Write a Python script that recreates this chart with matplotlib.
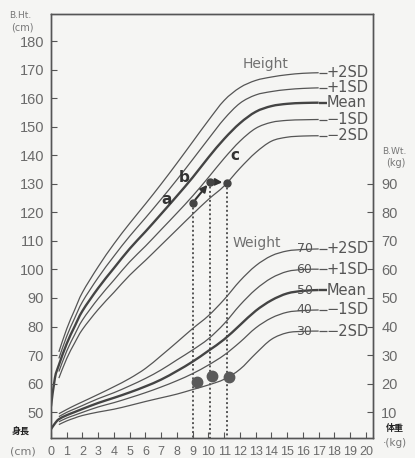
import matplotlib
matplotlib.use("Agg")
import matplotlib.pyplot as plt
from matplotlib.path import Path
from matplotlib.patches import PathPatch

plt.rcParams['font.family'] = ['DejaVu Sans', 'Noto Sans CJK JP']

# Ages (years) at which the standard curves are tabulated
ages = [0.5, 1, 1.5, 2, 3, 4, 5, 6, 7, 8, 9, 10, 11, 12, 13, 14, 15, 16, 17]

# Height standards (cm)
height_p2 = [71.1, 79.2, 85.8, 92.0, 101.0, 109.0, 116.2, 123.0, 130.0, 137.3, 144.8,
             152.3, 159.3, 163.8, 166.3, 167.5, 168.3, 168.8, 169.0]
height_p1 = [68.8, 76.6, 82.9, 88.7, 97.2, 104.7, 111.7, 118.1, 124.7, 131.5, 138.6,
             145.8, 152.8, 158.3, 161.2, 162.4, 163.1, 163.5, 163.7]
height_mean = [66.5, 74.0, 80.0, 85.5, 93.5, 100.5, 107.3, 113.3, 119.5, 125.8, 132.3,
               139.3, 145.8, 151.3, 155.3, 157.3, 158.1, 158.4, 158.5]
height_m1 = [64.2, 71.4, 77.1, 82.3, 89.8, 96.3, 102.7, 108.2, 114.0, 119.8, 125.8,
             132.3, 139.0, 145.0, 149.5, 151.6, 152.3, 152.5, 152.6]
height_m2 = [61.9, 68.8, 74.2, 79.0, 86.0, 92.0, 98.0, 103.2, 108.6, 114.0, 119.4,
             124.6, 129.3, 135.5, 141.0, 145.0, 146.4, 146.8, 146.9]

# Weight standards (kg)
weight_p2 = [9.4, 10.9, 12.3, 13.6, 16.2, 18.9, 21.8, 25.3, 29.8, 34.5, 39.3,
             43.8, 49.5, 56.0, 61.3, 64.8, 66.5, 67.0, 67.2]
weight_p1 = [8.4, 9.9, 11.1, 12.3, 14.7, 16.8, 19.2, 21.8, 24.8, 28.3, 31.8,
             35.7, 41.0, 47.5, 53.0, 57.0, 59.3, 60.0, 60.1]
weight_mean = [7.5, 8.9, 10.0, 11.1, 13.2, 15.0, 16.9, 19.0, 21.4, 24.4, 27.7,
               31.5, 35.5, 40.5, 45.5, 49.2, 51.6, 52.5, 52.8]
weight_m1 = [6.6, 7.9, 8.9, 9.9, 11.8, 13.3, 15.0, 16.8, 18.8, 21.0, 23.5,
             26.5, 30.0, 34.5, 39.5, 43.0, 45.0, 45.6, 45.8]
weight_m2 = [5.6, 6.9, 7.9, 8.8, 10.0, 11.0, 12.3, 13.7, 15.0, 16.3, 17.9,
             19.5, 21.5, 25.0, 30.5, 35.5, 37.8, 38.3, 38.4]

# Mean curves start at birth
birth_ages = [0, 0.25]
birth_height = [52.0, 62.0]
birth_weight = [4.0, 6.0]

sd_labels = ['+2SD', '+1SD', 'Mean', '\u22121SD', '\u22122SD']
weight_marks = ['70', '60', '50', '40', '30']

# Measured child
visit_ages = [9.0, 10.1, 11.15]
visit_height = [123.4, 130.8, 130.5]
visit_weight_ages = [9.25, 10.25, 11.3]
visit_weight = [20.6, 22.6, 22.2]
point_letters = ['a', 'b', 'c']

x_ticks = list(range(0, 21))
height_ticks = list(range(50, 181, 10))
weight_ticks = list(range(10, 91, 10))

BG = '#f5f5f3'
LINE = '#555555'
TXT = '#6a6a6a'

W, H = 415, 458
fig = plt.figure(figsize=(W / 100, H / 100), dpi=100, facecolor=BG)
ax = fig.add_axes([51 / W, 1 - 438 / H, 322 / W, 424 / H])
ax.set_facecolor(BG)
ax.set_xlim(0, 20.45)
ax.set_ylim(40.9, 189.6)
ax2 = ax.twinx()
ax2.set_ylim(0.9, 149.6)

for a in (ax, ax2):
    for s in a.spines.values():
        s.set_color(LINE)
        s.set_linewidth(1.0)

ax.set_xticks(x_ticks)
ax.set_xticklabels([str(t) for t in x_ticks], family='Liberation Sans', fontsize=9, color=TXT)
ax.set_yticks(height_ticks)
ax.set_yticklabels([str(t) for t in height_ticks], family='Liberation Sans', fontsize=10.5, color=TXT)
ax.tick_params(axis='x', direction='in', length=4, width=0.8, color=LINE, pad=6)
ax.tick_params(axis='y', direction='in', length=4, width=0.8, color=LINE, pad=5)
ax2.set_yticks(weight_ticks)
ax2.set_yticklabels([str(t) for t in weight_ticks], family='Liberation Sans', fontsize=10.5, color=TXT)
ax2.tick_params(axis='y', direction='in', length=4, width=0.8, color=LINE, pad=6)


def smooth_curve(axis, xs, ys, **kw):
    """Draw a smooth Catmull-Rom style Bezier path through the given points."""
    pts = list(zip(xs, ys))
    verts = [pts[0]]
    codes = [Path.MOVETO]
    n = len(pts)
    for i in range(n - 1):
        p0 = pts[i - 1] if i > 0 else pts[i]
        p1, p2 = pts[i], pts[i + 1]
        p3 = pts[i + 2] if i + 2 < n else pts[i + 1]
        c1 = (p1[0] + (p2[0] - p0[0]) / 6, p1[1] + (p2[1] - p0[1]) / 6)
        c2 = (p2[0] - (p3[0] - p1[0]) / 6, p2[1] - (p3[1] - p1[1]) / 6)
        verts += [c1, c2, p2]
        codes += [Path.CURVE4] * 3
    axis.add_patch(PathPatch(Path(verts, codes), fill=False, capstyle='butt', **kw))


LEAD_END = 17.5
height_sets = [height_p2, height_p1, height_mean, height_m1, height_m2]
weight_sets = [weight_p2, weight_p1, weight_mean, weight_m1, weight_m2]

for vals, lab in zip(height_sets, sd_labels):
    xs, ys = list(ages), list(vals)
    lw, col = 0.9, LINE
    if lab == 'Mean':
        xs, ys = birth_ages + xs, birth_height + ys
        lw, col = 1.7, '#444444'
    smooth_curve(ax, xs, ys, edgecolor=col, lw=lw)
    ax.plot([xs[-1], LEAD_END], [ys[-1], ys[-1]], color=col, lw=lw, solid_capstyle='butt')
    ax.text(LEAD_END, ys[-1], lab, fontsize=10.5, color='#555555',
            ha='left', va='center')

for vals, lab, mk in zip(weight_sets, sd_labels, weight_marks):
    xs, ys = list(ages), list(vals)
    lw, col = 0.9, LINE
    if lab == 'Mean':
        xs, ys = birth_ages + xs, birth_weight + ys
        lw, col = 1.7, '#444444'
    smooth_curve(ax2, xs, ys, edgecolor=col, lw=lw)
    ax2.plot([xs[-1], LEAD_END], [ys[-1], ys[-1]], color=col, lw=lw, solid_capstyle='butt')
    ax2.text(16.1, ys[-1], mk, fontsize=9, color='#555555', ha='center', va='center')
    ax2.text(LEAD_END, ys[-1], lab, fontsize=10.5, color='#555555',
             ha='left', va='center')

ax.text(13.65, 172, 'Height', fontsize=10, color='#707070', ha='center', va='center')
ax2.text(13.1, 69.3, 'Weight', fontsize=10, color='#707070', ha='center', va='center')

# Measured points and their drop lines
y_bottom = ax.get_ylim()[0]
for xa, h in zip(visit_ages, visit_height):
    ax.plot([xa, xa], [h, y_bottom], color='#555555', lw=1.4, linestyle=(0, (1, 1.3)))
ax.plot(visit_ages, visit_height, 'o', color='#444444', ms=5, zorder=5)
ax2.plot(visit_weight_ages, visit_weight, 'o', color='#5a5a5a', ms=7.5, zorder=5)

for k in range(len(visit_ages) - 1):
    ax.annotate('', xy=(visit_ages[k + 1], visit_height[k + 1]),
                xytext=(visit_ages[k], visit_height[k]),
                arrowprops=dict(arrowstyle='-|>', color='#333333', lw=1.5,
                                shrinkA=3, shrinkB=3, mutation_scale=10))

letter_pos = [(7.33, 124.4), (8.47, 132.1), (11.66, 139.8)]
for (lx, ly), t in zip(letter_pos, point_letters):
    ax.text(lx, ly, t, fontsize=11, fontweight='bold', color='#333333',
            ha='center', va='center')


# Axis captions
def ftext(x, y, s, **kw):
    fig.text(x / W, 1 - y / H, s, ha='center', va='center', **kw)


ftext(20, 16, 'B.Ht.', fontsize=6.5, color='#777777')
ftext(22, 28, '(cm)', fontsize=7, color='#777777')
ftext(21, 432, '身長', fontsize=6.5, fontweight='bold', color='#222222',
      family=['Noto Sans CJK JP'])
ftext(23, 451, '(cm)', fontsize=8, color='#777777')
ftext(394, 152, 'B.Wt.', fontsize=6.5, color='#777777')
ftext(396, 163, '(kg)', fontsize=7, color='#777777')
ftext(395, 428, '体重', fontsize=6.5, fontweight='bold', color='#222222',
      family=['Noto Sans CJK JP'])
ftext(395, 443, '\u00b7(kg)', fontsize=7.5, color='#777777')

fig.savefig('out.png', dpi=100, facecolor=BG)
